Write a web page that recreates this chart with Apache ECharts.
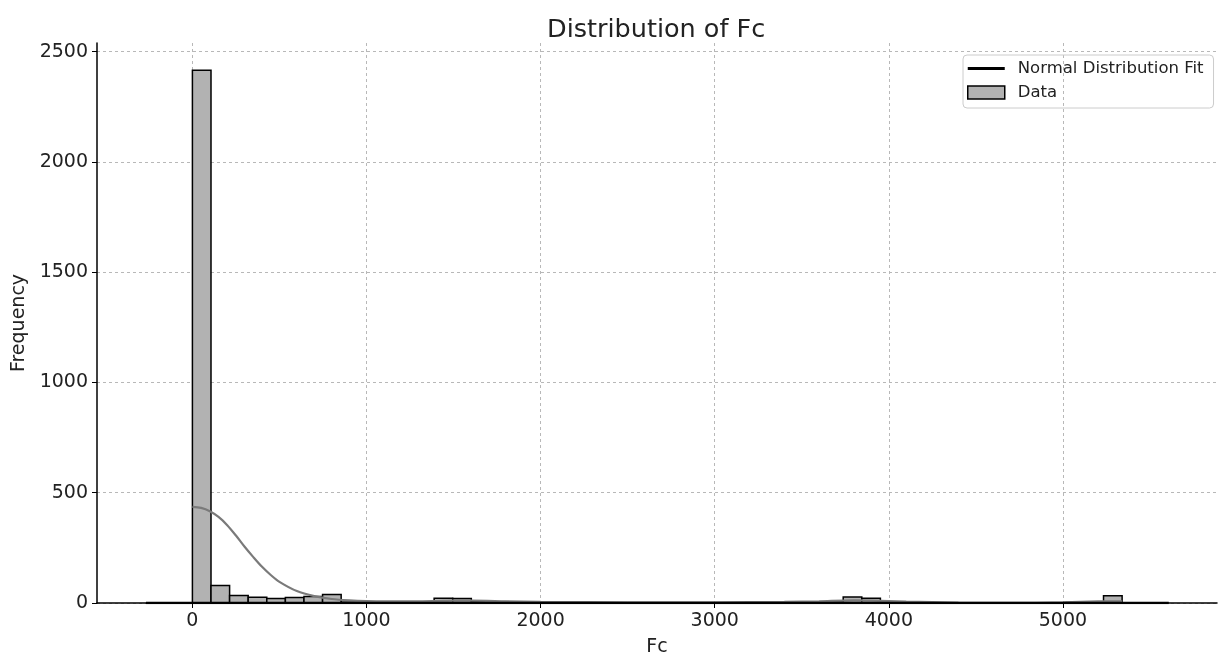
<!DOCTYPE html>
<html>
<head>
<meta charset="utf-8">
<script src="https://cdn.jsdelivr.net/npm/echarts@6/dist/echarts.min.js"></script>
<style>html,body{margin:0;padding:0;background:#fff}#c{width:1218px;height:655px}</style>
</head>
<body>
<div id="c"></div>
<script>
// ---- data ----
const binStart = 0;
const binWidth = 106.8;
const binCounts = [2415, 79, 34, 26, 20, 25, 29, 38, 4, 2,
                   1, 2, 3, 21, 20, 8, 6, 3, 2, 1,
                   1, 1, 1, 0, 1, 1, 1, 1, 0, 1,
                   1, 2, 2, 3, 5, 27, 22, 3, 1, 0,
                   0, 0, 0, 0, 0, 0, 1, 2, 3, 33];
const kdeX = [0, 50, 100, 150, 200, 250, 300, 350, 400, 450, 500, 600, 700, 800, 900, 1000, 1200, 1400, 1500, 1600, 1800, 2000, 2500, 3000, 3400, 3600, 3800, 3900, 4100, 4400, 4800, 5000, 5200, 5341];
const kdeY = [436, 431, 416, 390, 353, 306, 255, 208, 164, 127, 96, 54, 31, 18, 12, 9, 7, 9, 11, 11, 8, 5, 3, 3, 5, 8, 12, 11, 6, 2, 1, 3, 7, 8];
const normX = [-267, 5608];
const normY = [0, 0];
const xTicks = [0, 1000, 2000, 3000, 4000, 5000];
const yTicks = [0, 500, 1000, 1500, 2000, 2500];

const histData = binCounts.map((c, i) => [binStart + i * binWidth, binStart + (i + 1) * binWidth, c]);
const kdeData = kdeX.map((x, i) => [x, kdeY[i]]);
const normData = normX.map((x, i) => [x, normY[i]]);

const FONT = 'DejaVu Sans';
const plain = v => String(v);
const chart = echarts.init(document.getElementById('c'));
chart.setOption({
  animation: false,
  backgroundColor: '#fff',
  title: {
    text: 'Distribution of Fc', left: 542, top: 12,
    textStyle: {fontFamily: FONT, fontSize: 25.5, fontWeight: 'normal', color: '#222'}
  },
  legend: {
    orient: 'vertical', left: 963, top: 55,
    padding: [5, 10, 7, 4], itemGap: 7, itemWidth: 37, itemHeight: 13,
    borderColor: '#cccccc', borderWidth: 1, borderRadius: 4,
    textStyle: {fontFamily: FONT, fontSize: 16.5, color: '#222', lineHeight: 17, padding: [0, 0, 0, 8]},
    data: [
      {name: 'Normal Distribution Fit', icon: 'path://M0,0L37,0L37,3L0,3Z', itemStyle: {color: '#000'}},
      {name: 'Data', icon: 'rect', itemStyle: {color: '#b2b2b2', borderColor: '#000', borderWidth: 1.5}}
    ]
  },
  grid: {left: 97, right: 1, top: 43, bottom: 52, containLabel: false, outerBoundsMode: 'none'},
  xAxis: {
    type: 'value', min: -548, max: 5885,
    name: 'Fc', nameLocation: 'middle', nameGap: 35,
    nameTextStyle: {fontFamily: FONT, fontSize: 19, color: '#222'},
    axisLine: {show: true, onZero: false, lineStyle: {color: '#000', width: 1.5}},
    axisTick: {show: true, length: 5, customValues: xTicks, lineStyle: {color: '#000'}},
    axisLabel: {customValues: xTicks, formatter: plain, margin: 9, fontFamily: FONT, fontSize: 19, color: '#222'},
    splitLine: {show: true, lineStyle: {color: '#b8b8b8', type: [3, 3], width: 1}}
  },
  yAxis: {
    type: 'value', min: 0, max: 2539,
    name: 'Frequency', nameLocation: 'middle', nameGap: 61,
    nameTextStyle: {fontFamily: FONT, fontSize: 19, color: '#222'},
    axisLine: {show: true, onZero: false, lineStyle: {color: '#000', width: 1.5}},
    axisTick: {show: true, length: 5, customValues: yTicks, lineStyle: {color: '#000'}},
    axisLabel: {customValues: yTicks, formatter: plain, margin: 9, fontFamily: FONT, fontSize: 19, color: '#222'},
    splitLine: {show: true, lineStyle: {color: '#b8b8b8', type: [3, 3], width: 1}}
  },
  series: [
    {
      name: 'Data', type: 'custom', z: 2,
      itemStyle: {color: '#b2b2b2'},
      encode: {x: [0, 1], y: 2},
      renderItem: function (params, api) {
        const p0 = api.coord([api.value(0), api.value(2)]);
        const p1 = api.coord([api.value(1), 0]);
        return {
          type: 'rect',
          shape: {x: p0[0], y: p0[1], width: p1[0] - p0[0], height: p1[1] - p0[1]},
          style: {fill: '#b2b2b2', stroke: '#000', lineWidth: 1.5}
        };
      },
      data: histData
    },
    {
      name: 'KDE', type: 'line', z: 3, smooth: 0.3, symbol: 'none',
      lineStyle: {color: '#7a7a7a', width: 2.2},
      data: kdeData
    },
    {
      name: 'Normal Distribution Fit', type: 'line', z: 4, symbol: 'none',
      lineStyle: {color: '#000', width: 2.5}, itemStyle: {color: '#000'},
      data: normData
    }
  ]
});
</script>
</body>
</html>
